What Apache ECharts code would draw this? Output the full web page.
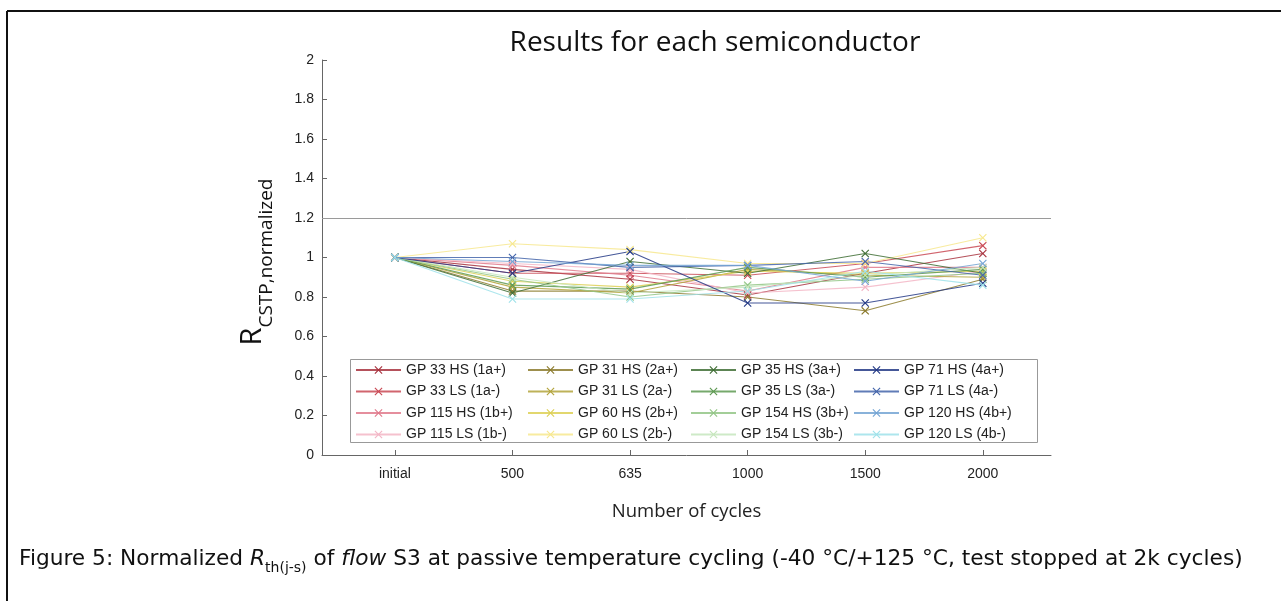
<!DOCTYPE html>
<html>
<head>
<meta charset="utf-8">
<script src="https://cdn.jsdelivr.net/npm/echarts@6/dist/echarts.min.js"></script>
<style>html,body{margin:0;padding:0;background:#fff;}#c{width:1281px;height:601px;}</style>
</head>
<body>
<div id="c"></div>
<script>
// ---- data ----
var categories = ['initial', '500', '635', '1000', '1500', '2000'];
var seriesNames = [
  'GP 33 HS (1a+)', 'GP 33 LS (1a-)', 'GP 115 HS (1b+)', 'GP 115 LS (1b-)',
  'GP 31 HS (2a+)', 'GP 31 LS (2a-)', 'GP 60 HS (2b+)', 'GP 60 LS (2b-)',
  'GP 35 HS (3a+)', 'GP 35 LS (3a-)', 'GP 154 HS (3b+)', 'GP 154 LS (3b-)',
  'GP 71 HS (4a+)', 'GP 71 LS (4a-)', 'GP 120 HS (4b+)', 'GP 120 LS (4b-)'
];
var gp33hs  = [1, 0.94, 0.89, 0.81, 0.92, 1.02];
var gp33ls  = [1, 0.92, 0.92, 0.91, 0.97, 1.06];
var gp115hs = [1, 0.96, 0.91, 0.83, 0.95, 0.95];
var gp115ls = [1, 0.97, 0.94, 0.82, 0.85, 0.93];
var gp31hs  = [1, 0.83, 0.83, 0.80, 0.73, 0.89];
var gp31ls  = [1, 0.85, 0.82, 0.94, 0.91, 0.90];
var gp60hs  = [1, 0.88, 0.85, 0.93, 0.92, 0.93];
var gp60ls  = [1, 1.07, 1.04, 0.97, 0.97, 1.10];
var gp35hs  = [1, 0.82, 0.98, 0.92, 1.02, 0.92];
var gp35ls  = [1, 0.86, 0.84, 0.95, 0.90, 0.94];
var gp154hs = [1, 0.89, 0.80, 0.86, 0.89, 0.92];
var gp154ls = [1, 0.90, 0.82, 0.85, 0.91, 0.95];
var gp71hs  = [1, 0.92, 1.03, 0.77, 0.77, 0.87];
var gp71ls  = [1, 1.00, 0.95, 0.96, 0.98, 0.91];
var gp120hs = [1, 0.98, 0.96, 0.96, 0.88, 0.97];
var gp120ls = [1, 0.79, 0.79, 0.83, 0.93, 0.86];
var seriesValues = [gp33hs, gp33ls, gp115hs, gp115ls, gp31hs, gp31ls, gp60hs, gp60ls,
  gp35hs, gp35ls, gp154hs, gp154ls, gp71hs, gp71ls, gp120hs, gp120ls];
var yTicks = [0, 0.2, 0.4, 0.6, 0.8, 1, 1.2, 1.4, 1.6, 1.8, 2];
var limitValue = 1.2;

// ---- styles ----
var colors = [
  '#a8323e', '#c94a55', '#e07a8c', '#f3b6c6',
  '#8c7b2e', '#b3a43c', '#ddd055', '#f7e88e',
  '#3f6e35', '#5e9a52', '#93c686', '#c6e6bd',
  '#243a86', '#4465aa', '#74a4d4', '#9fe2ea'
];
var xSym = 'path://M0,1L1,0L5,4L9,0L10,1L6,5L10,9L9,10L5,6L1,10L0,9L4,5Z';

var series = seriesNames.map(function (name, i) {
  var s = {
    name: name,
    type: 'line',
    data: seriesValues[i].map(function (v, k) { return [k, v]; }),
    symbol: xSym,
    symbolSize: 8,
    lineStyle: { width: 1.1, color: colors[i], opacity: 0.85 },
    itemStyle: { color: colors[i] },
    z: 3
  };
  if (i === 0) {
    s.markLine = {
      silent: true, symbol: 'none', label: { show: false },
      lineStyle: { color: '#9a9a9a', type: 'solid', width: 1 },
      data: [{ yAxis: limitValue }]
    };
  }
  return s;
});

var legendLefts = [355, 527, 690, 853];
var legends = [0, 1, 2, 3].map(function (c) {
  return {
    orient: 'vertical',
    left: legendLefts[c],
    top: 363,
    itemWidth: 45,
    itemHeight: 10,
    itemGap: 7.5,
    padding: 0,
    data: seriesNames.slice(c * 4, c * 4 + 4),
    textStyle: { fontFamily: 'Liberation Sans', fontSize: 14, color: '#222' }
  };
});

var chart = echarts.init(document.getElementById('c'), null, { renderer: 'canvas' });
chart.setOption({
  animation: false,
  backgroundColor: '#fff',
  title: {
    text: 'Results for each semiconductor',
    left: 710, top: 24, textAlign: 'center',
    textStyle: { fontFamily: 'Open Sans', fontSize: 28, fontWeight: 'normal', color: '#111' }
  },
  grid: { left: 322, right: 230, top: 60, bottom: 146, containLabel: false },
  xAxis: {
    type: 'value', min: -0.62, max: 5.58,
    name: 'Number of cycles', nameLocation: 'middle', nameGap: 47,
    nameTextStyle: { fontFamily: 'Open Sans', fontSize: 18.5, color: '#222' },
    splitLine: { show: false },
    axisLine: { onZero: false, lineStyle: { color: '#666', width: 1 } },
    axisTick: { inside: true, length: 5, lineStyle: { color: '#666' }, customValues: [0, 1, 2, 3, 4, 5] },
    axisLabel: {
      customValues: [0, 1, 2, 3, 4, 5], margin: 12,
      formatter: function (v) { return categories[Math.round(v)]; },
      fontFamily: 'Liberation Sans', fontSize: 14, color: '#222'
    }
  },
  yAxis: {
    type: 'value', min: 0, max: 2, interval: 0.2,
    splitLine: { show: false },
    axisLine: { show: true, onZero: false, lineStyle: { color: '#666', width: 1 } },
    axisTick: { show: true, inside: true, length: 5, lineStyle: { color: '#666' } },
    axisLabel: {
      margin: 8, fontFamily: 'Liberation Sans', fontSize: 14, color: '#222',
      formatter: function (v) {
        var t = yTicks.filter(function (y) { return Math.abs(y - v) < 1e-6; });
        return t.length ? String(t[0]) : '';
      }
    }
  },
  legend: legends,
  graphic: [
    { type: 'line', shape: { x1: 7, y1: 11, x2: 7, y2: 601 }, style: { stroke: '#111', lineWidth: 2 } },
    { type: 'line', shape: { x1: 7, y1: 11, x2: 1281, y2: 11 }, style: { stroke: '#111', lineWidth: 2 } },
    { type: 'rect', shape: { x: 350.5, y: 359.5, width: 687, height: 83 }, style: { fill: '#fff', stroke: '#999', lineWidth: 1 }, z: 1 },
    {
      type: 'text', x: 250, y: 262, rotation: Math.PI / 2,
      style: {
        text: '{r|R}{s|CSTP,normalized}',
        align: 'center', verticalAlign: 'middle',
        rich: {
          r: { fontFamily: 'Open Sans', fontSize: 29, fill: '#111', lineHeight: 34, verticalAlign: 'bottom' },
          s: { fontFamily: 'Open Sans', fontSize: 19, fill: '#111', lineHeight: 34, verticalAlign: 'bottom', padding: [0, 0, -9, 0] }
        }
      }
    },
    {
      type: 'text', x: 19, y: 556,
      style: {
        text: '{n|Figure 5: Normalized }{i|R}{sub|th(j-s)}{n| of }{i|flow}{n| S3 at passive temperature cycling (-40 °C/+125 °C, test stopped at 2k cycles)}',
        align: 'left', verticalAlign: 'middle',
        rich: {
          n: { fontFamily: 'DejaVu Sans', fontSize: 21.7, fill: '#111', lineHeight: 28, verticalAlign: 'bottom' },
          i: { fontFamily: 'DejaVu Sans', fontStyle: 'italic', fontSize: 21.7, fill: '#111', lineHeight: 28, verticalAlign: 'bottom' },
          sub: { fontFamily: 'DejaVu Sans', fontSize: 14, fill: '#111', lineHeight: 28, verticalAlign: 'bottom', padding: [0, 0, -5, 0] }
        }
      }
    }
  ],
  series: series
});
</script>
</body>
</html>
